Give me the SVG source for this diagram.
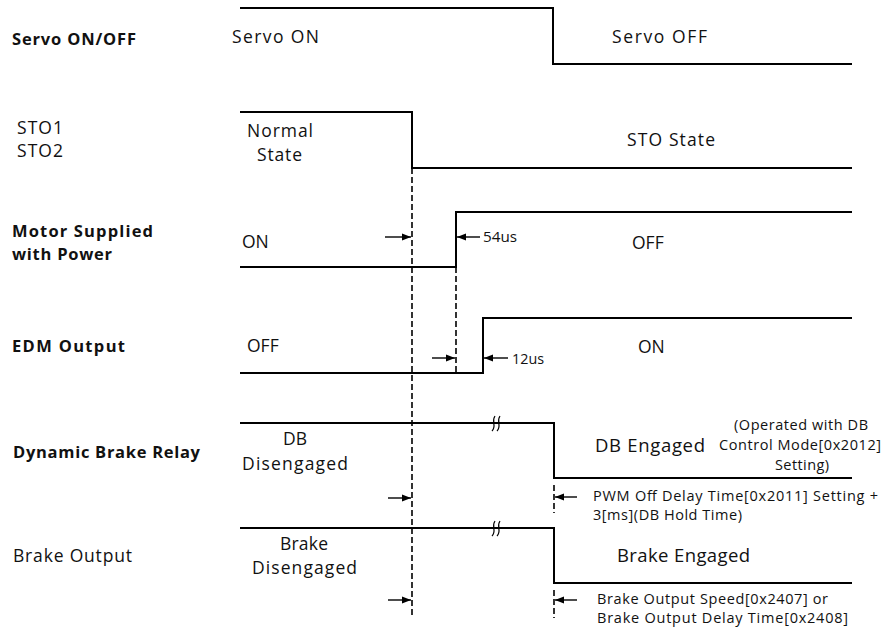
<svg xmlns="http://www.w3.org/2000/svg" width="884" height="630" viewBox="0 0 884 630">
<style>
text{font-family:"Open Sans","Noto Sans","DejaVu Sans",sans-serif;font-size:17.5px;fill:#111}
.b{font-weight:bold;font-size:16.5px}
.big{font-size:18.5px}
.sm{font-size:14.5px}
.us{font-size:14.5px}
.sig{fill:none;stroke:#000;stroke-width:2}
.dash{fill:none;stroke:#000;stroke-width:1.6;stroke-dasharray:6,3}
.arr{fill:none;stroke:#000;stroke-width:1.4;marker-end:url(#ah)}
.brk{fill:none;stroke:#000;stroke-width:1.2}
</style>
<defs>
<marker id="ah" markerUnits="userSpaceOnUse" markerWidth="10" markerHeight="8" refX="9" refY="4" orient="auto">
<path d="M0,0.5 L9,4 L0,7.5 z" fill="#000"/>
</marker>
</defs>
<rect width="884" height="630" fill="#fff"/>

<g id="servo">
<text class="b" x="12" y="45" textLength="124" lengthAdjust="spacing">Servo ON/OFF</text>
<path class="sig" d="M240,8 H553 V64 H852"/>
<text x="232" y="43" textLength="87" lengthAdjust="spacing">Servo ON</text>
<text x="612" y="43" textLength="95" lengthAdjust="spacing">Servo OFF</text>
</g>

<g id="sto">
<text x="17" y="134" textLength="46" lengthAdjust="spacing">STO1</text>
<text x="17" y="157" textLength="46" lengthAdjust="spacing">STO2</text>
<path class="sig" d="M240,112 H412 V168 H852"/>
<text x="247" y="137" textLength="66" lengthAdjust="spacing">Normal</text>
<text x="257" y="161" textLength="45" lengthAdjust="spacing">State</text>
<text x="627" y="146" textLength="88" lengthAdjust="spacing">STO State</text>
</g>

<g id="motor">
<text class="b" x="12" y="237" textLength="141" lengthAdjust="spacing">Motor Supplied</text>
<text class="b" x="12" y="260" textLength="100" lengthAdjust="spacing">with Power</text>
<path class="sig" d="M240,267 H456 V212 H852"/>
<text x="242" y="248">ON</text>
<text x="632" y="249">OFF</text>
<text class="us" x="483" y="242" textLength="34" lengthAdjust="spacingAndGlyphs">54us</text>
</g>

<g id="edm">
<text class="b" x="12" y="352" textLength="113" lengthAdjust="spacing">EDM Output</text>
<path class="sig" d="M240,373 H483 V318 H852"/>
<text x="247" y="352">OFF</text>
<text x="638" y="353">ON</text>
<text class="us" x="512" y="364" textLength="32" lengthAdjust="spacingAndGlyphs">12us</text>
</g>

<g id="db">
<text class="b" x="13" y="458" textLength="187" lengthAdjust="spacing">Dynamic Brake Relay</text>
<path class="sig" d="M240,423 H554 V478 H852"/>
<path class="brk" d="M495,416 C491,421 497,426 492,431 M500,416 C496,421 502,426 497,431"/>
<text x="283" y="445">DB</text>
<text x="242" y="470" textLength="106" lengthAdjust="spacing">Disengaged</text>
<text class="big" x="595" y="452" textLength="110" lengthAdjust="spacing">DB Engaged</text>
<text class="sm" x="734" y="430" textLength="134" lengthAdjust="spacing">(Operated with DB</text>
<text class="sm" x="719" y="450" textLength="162" lengthAdjust="spacing">Control Mode[0x2012]</text>
<text class="sm" x="775" y="470" textLength="54" lengthAdjust="spacing">Setting)</text>
<text class="sm" x="593" y="501" textLength="285" lengthAdjust="spacing">PWM Off Delay Time[0x2011] Setting +</text>
<text class="sm" x="593" y="520" textLength="149" lengthAdjust="spacing">3[ms](DB Hold Time)</text>
</g>

<g id="brake">
<text x="13" y="562" textLength="119" lengthAdjust="spacing">Brake Output</text>
<path class="sig" d="M240,528 H554 V583 H852"/>
<path class="brk" d="M495,521 C491,526 497,531 492,536 M500,521 C496,526 502,531 497,536"/>
<text x="280" y="550" textLength="48" lengthAdjust="spacing">Brake</text>
<text x="252" y="574" textLength="105" lengthAdjust="spacing">Disengaged</text>
<text class="big" x="617" y="562" textLength="133" lengthAdjust="spacing">Brake Engaged</text>
<text class="sm" x="597" y="604" textLength="231" lengthAdjust="spacing">Brake Output Speed[0x2407] or</text>
<text class="sm" x="597" y="623" textLength="251" lengthAdjust="spacing">Brake Output Delay Time[0x2408]</text>
</g>

<g id="connectors">
<path class="dash" d="M412,168 V618"/>
<path class="dash" d="M456,267 V373"/>
<path class="dash" d="M554,485 V513"/>
<path class="dash" d="M554,590 V618"/>
<path class="arr" d="M385,237 H411"/>
<path class="arr" d="M480,237 H457"/>
<path class="arr" d="M432,358 H455"/>
<path class="arr" d="M508,358 H484"/>
<path class="arr" d="M388,498 H411"/>
<path class="arr" d="M577,497 H555"/>
<path class="arr" d="M388,600 H411"/>
<path class="arr" d="M577,600 H555"/>
</g>
</svg>
